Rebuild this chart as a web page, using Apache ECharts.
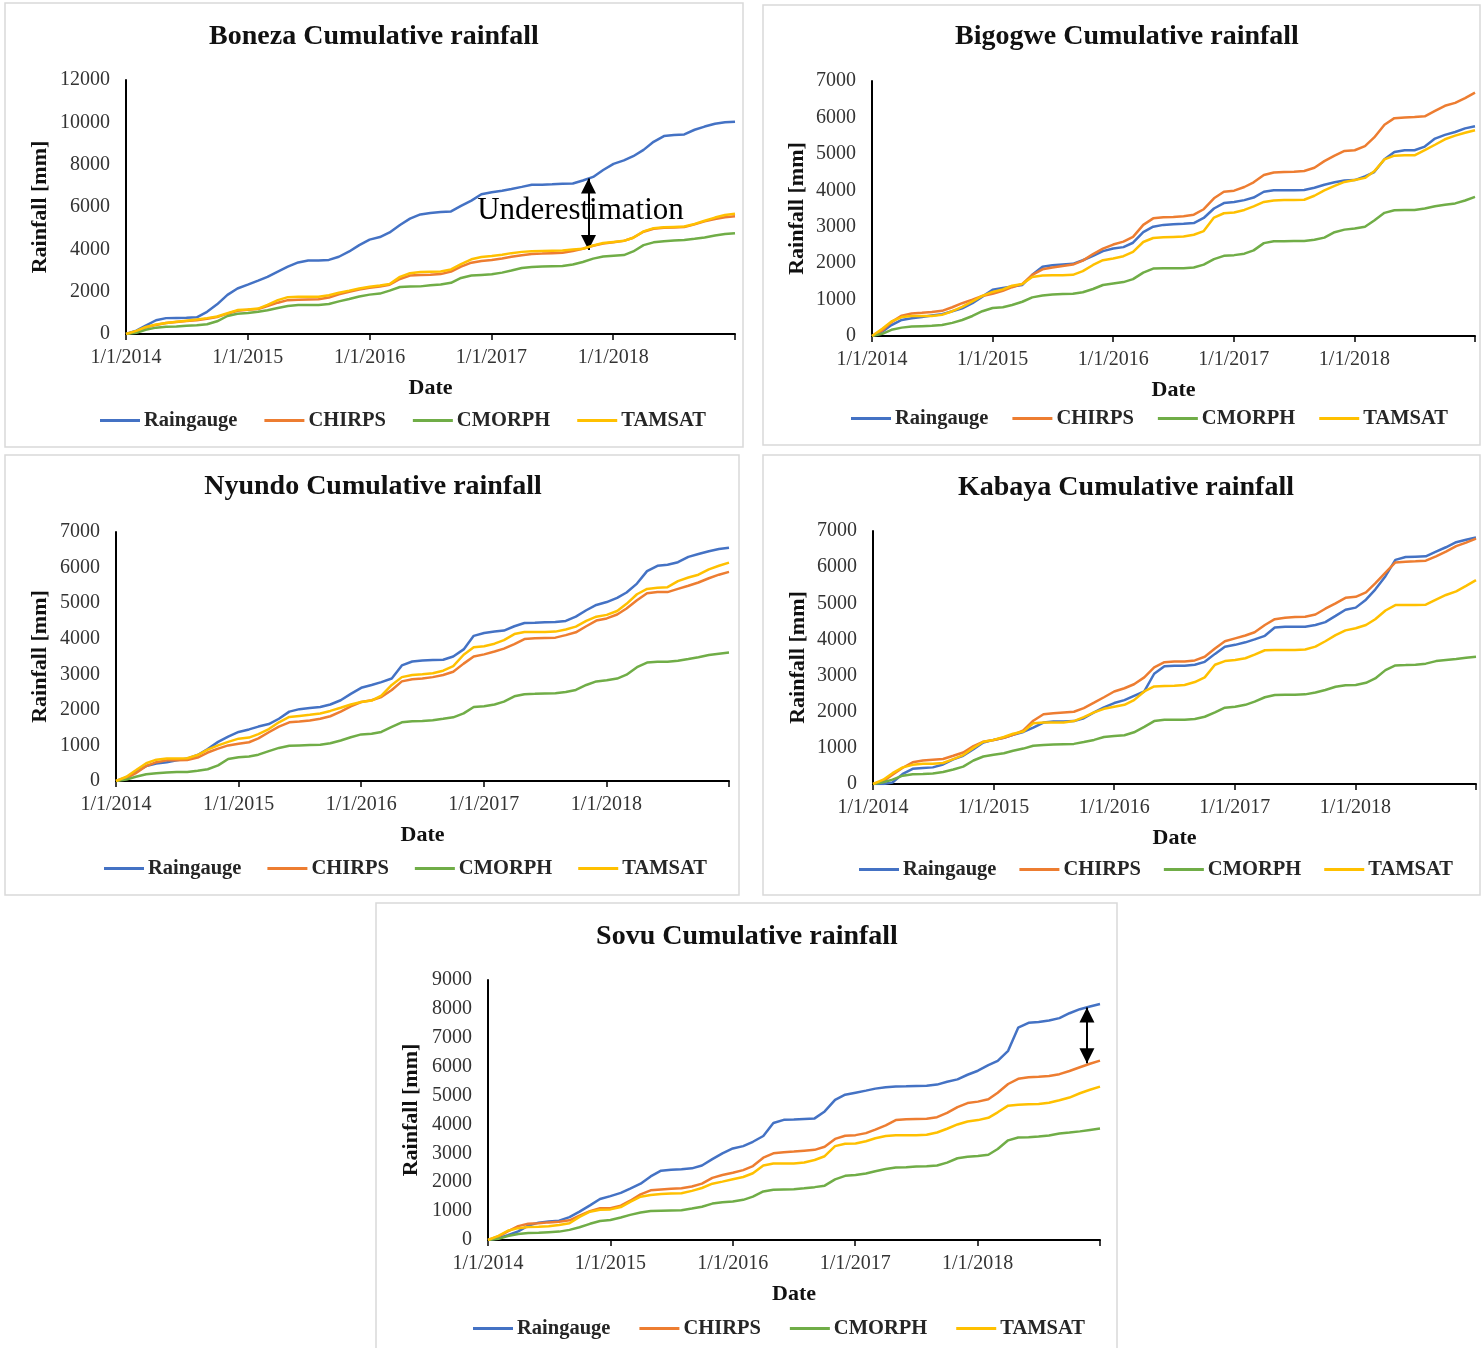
<!DOCTYPE html>
<html>
<head>
<meta charset="utf-8">
<title>Cumulative rainfall</title>
<script src="https://cdn.jsdelivr.net/npm/echarts@6/dist/echarts.min.js"></script>
<style>
  html, body { margin: 0; padding: 0; background: #ffffff; }
  #chart { width: 1482px; height: 1348px; }
</style>
</head>
<body>
<div id="chart"></div>
<script>
// Sampling dates: first day of each month, 2014-01 .. 2018-12, plus the last day of 2018
const dates = [
  '2014-01-01','2014-02-01','2014-03-01','2014-04-01','2014-05-01','2014-06-01','2014-07-01','2014-08-01','2014-09-01','2014-10-01','2014-11-01','2014-12-01',
  '2015-01-01','2015-02-01','2015-03-01','2015-04-01','2015-05-01','2015-06-01','2015-07-01','2015-08-01','2015-09-01','2015-10-01','2015-11-01','2015-12-01',
  '2016-01-01','2016-02-01','2016-03-01','2016-04-01','2016-05-01','2016-06-01','2016-07-01','2016-08-01','2016-09-01','2016-10-01','2016-11-01','2016-12-01',
  '2017-01-01','2017-02-01','2017-03-01','2017-04-01','2017-05-01','2017-06-01','2017-07-01','2017-08-01','2017-09-01','2017-10-01','2017-11-01','2017-12-01',
  '2018-01-01','2018-02-01','2018-03-01','2018-04-01','2018-05-01','2018-06-01','2018-07-01','2018-08-01','2018-09-01','2018-10-01','2018-11-01','2018-12-01',
  '2018-12-31'
];

const seriesNames = ['Raingauge', 'CHIRPS', 'CMORPH', 'TAMSAT'];
const yearTickLabels = ['1/1/2014', '1/1/2015', '1/1/2016', '1/1/2017', '1/1/2018'];

// Cumulative rainfall [mm] — Boneza
const bonezaRaingauge = [
  0, 160, 400, 650, 750, 760, 770, 790, 1050, 1400, 1850, 2150,
  2330, 2520, 2700, 2950, 3180, 3380, 3470, 3470, 3500, 3650, 3900, 4200,
  4460, 4580, 4800, 5150, 5450, 5650, 5720, 5760, 5790, 6050, 6300, 6600,
  6700, 6770, 6850, 6950, 7050, 7050, 7070, 7100, 7110, 7250, 7420, 7750,
  8040, 8200, 8400, 8700, 9080, 9350, 9400, 9430, 9650, 9800, 9930, 10000,
  10030
];
const bonezaChirps = [
  0, 120, 300, 430, 520, 570, 610, 650, 720, 800, 960, 1100,
  1140, 1180, 1320, 1480, 1600, 1620, 1630, 1640, 1720, 1880, 2000, 2100,
  2180, 2240, 2330, 2600, 2760, 2790, 2800, 2830, 2950, 3180, 3370, 3450,
  3500, 3570, 3650, 3720, 3780, 3800, 3820, 3840, 3920, 4030, 4170, 4270,
  4330, 4400, 4550, 4830, 4970, 5020, 5030, 5050, 5180, 5320, 5430, 5520,
  5560
];
const bonezaCmorph = [
  0, 60, 200, 300, 340, 360, 390, 410, 460, 600, 850, 960,
  990, 1050, 1120, 1230, 1320, 1370, 1370, 1370, 1420, 1540, 1650, 1770,
  1860, 1910, 2050, 2220, 2240, 2250, 2300, 2340, 2420, 2650, 2760, 2790,
  2820, 2900, 3000, 3120, 3170, 3190, 3200, 3210, 3280, 3400, 3560, 3660,
  3700, 3730, 3900, 4200, 4330, 4380, 4420, 4440, 4500, 4560, 4650, 4720,
  4760
];
const bonezaTamsat = [
  0, 150, 330, 450, 520, 580, 630, 680, 750, 830, 980, 1130,
  1160, 1200, 1380, 1600, 1740, 1760, 1760, 1760, 1830, 1950, 2050, 2150,
  2230, 2290, 2360, 2700, 2870, 2930, 2940, 2950, 3050, 3300, 3530, 3640,
  3680, 3740, 3820, 3880, 3910, 3920, 3930, 3940, 3990, 4030, 4180, 4300,
  4350, 4400, 4550, 4850, 5000, 5040, 5060, 5080, 5200, 5350, 5500, 5620,
  5680
];

// Cumulative rainfall [mm] — Bigogwe
const bigogweRaingauge = [
  0, 120, 300, 440, 490, 520, 560, 600, 680, 760, 900, 1080,
  1270, 1320, 1360, 1400, 1680, 1900, 1940, 1960, 1980, 2080, 2200, 2330,
  2400, 2440, 2560, 2850, 3000, 3050, 3070, 3080, 3100, 3240, 3500, 3650,
  3680, 3730, 3800, 3960, 4000, 4000, 4000, 4010, 4070, 4150, 4220, 4270,
  4280, 4380, 4500, 4850, 5050, 5100, 5100, 5200, 5420, 5520, 5600, 5700,
  5760
];
const bigogweChirps = [
  0, 150, 380, 560, 620, 640, 660, 690, 790, 900, 1000, 1100,
  1160, 1240, 1340, 1430, 1680, 1830, 1880, 1920, 1960, 2070, 2250, 2400,
  2510, 2590, 2720, 3050, 3230, 3260, 3270, 3290, 3330, 3480, 3780, 3960,
  3990, 4090, 4220, 4420, 4490, 4500, 4510, 4530, 4620, 4800, 4950, 5080,
  5100, 5210, 5450, 5800, 5980, 6000, 6010, 6030, 6180, 6320, 6400, 6530,
  6680
];
const bigogweCmorph = [
  0, 60, 170, 230, 260, 270, 280, 300, 360, 440, 550, 680,
  770, 790, 850, 940, 1060, 1110, 1140, 1150, 1160, 1200, 1290, 1400,
  1440, 1480, 1560, 1740, 1850, 1860, 1860, 1860, 1880, 1960, 2110, 2200,
  2220, 2260, 2350, 2550, 2600, 2600, 2610, 2610, 2640, 2700, 2850, 2920,
  2950, 3000, 3170, 3380, 3450, 3460, 3460, 3500, 3560, 3600, 3640, 3720,
  3820
];
const bigogweTamsat = [
  0, 200, 400, 520, 550, 550, 550, 580, 680, 800, 950, 1100,
  1210, 1280, 1380, 1430, 1620, 1660, 1670, 1670, 1680, 1780, 1950, 2080,
  2130, 2190, 2310, 2580, 2690, 2710, 2720, 2730, 2780, 2880, 3250, 3370,
  3390, 3460, 3560, 3680, 3720, 3730, 3730, 3740, 3850, 4000, 4120, 4230,
  4280, 4340, 4520, 4850, 4950, 4960, 4960, 5100, 5250, 5400, 5500, 5580,
  5650
];

// Cumulative rainfall [mm] — Nyundo
const nyundoRaingauge = [
  0, 100, 260, 420, 490, 530, 580, 630, 730, 900, 1100, 1250,
  1380, 1450, 1530, 1600, 1750, 1950, 2020, 2050, 2080, 2150, 2270, 2450,
  2620, 2700, 2780, 2880, 3250, 3360, 3390, 3400, 3410, 3500, 3700, 4080,
  4160, 4200, 4230, 4350, 4440, 4450, 4460, 4470, 4500, 4620, 4800, 4950,
  5030, 5150, 5300, 5550, 5900, 6050, 6080, 6150, 6300, 6380, 6460, 6520,
  6560
];
const nyundoChirps = [
  0, 80, 220, 420, 530, 580, 580, 590, 660, 800, 910, 1000,
  1050, 1090, 1200, 1370, 1530, 1650, 1670, 1700, 1750, 1820, 1950, 2100,
  2220, 2270, 2360, 2560, 2800, 2860, 2880, 2920, 2980, 3070, 3300, 3500,
  3560, 3640, 3720, 3850, 3990, 4010, 4020, 4030, 4100, 4180, 4350, 4510,
  4570, 4680, 4850, 5080, 5280, 5310, 5310, 5400, 5490, 5580, 5700, 5800,
  5880
];
const nyundoCmorph = [
  0, 40, 120, 190, 220, 240, 250, 250, 290, 330, 440, 620,
  670, 690, 740, 840, 930, 990, 1000, 1010, 1020, 1060, 1140, 1230,
  1310, 1330, 1380, 1520, 1650, 1680, 1690, 1710, 1750, 1790, 1900, 2080,
  2100, 2150, 2230, 2380, 2440, 2450, 2460, 2470, 2500, 2560, 2700, 2800,
  2830, 2880, 2990, 3200, 3330, 3350, 3350, 3380, 3430, 3480, 3540, 3580,
  3610
];
const nyundoTamsat = [
  0, 120, 300, 500, 600, 630, 630, 640, 730, 880, 1000, 1100,
  1190, 1220, 1320, 1460, 1650, 1800, 1830, 1860, 1900, 1970, 2060, 2150,
  2220, 2260, 2400, 2700, 2920, 2980, 3000, 3030, 3100, 3230, 3550, 3760,
  3790, 3860, 3960, 4130, 4190, 4190, 4190, 4200, 4260, 4340, 4500, 4620,
  4670, 4780, 4980, 5250, 5400, 5430, 5450, 5620, 5720, 5800, 5950, 6050,
  6140
];

// Cumulative rainfall [mm] — Kabaya
const kabayaRaingauge = [
  0, 0, 40, 280, 420, 440, 460, 540, 680, 780, 960, 1150,
  1220, 1280, 1360, 1440, 1560, 1700, 1730, 1730, 1740, 1820, 1980, 2120,
  2240, 2320, 2440, 2560, 3050, 3260, 3270, 3270, 3300, 3380, 3600, 3800,
  3850, 3920, 4000, 4100, 4330, 4350, 4350, 4350, 4400, 4480, 4650, 4820,
  4880, 5100, 5380, 5750, 6200, 6280, 6290, 6300, 6430, 6550, 6690, 6760,
  6820
];
const kabayaChirps = [
  0, 80, 260, 450, 600, 650, 670, 690, 780, 870, 1050, 1170,
  1220, 1280, 1360, 1480, 1750, 1930, 1960, 1980, 2000, 2100, 2250, 2400,
  2560, 2650, 2760, 2950, 3230, 3370, 3390, 3390, 3420, 3520, 3750, 3950,
  4030, 4110, 4200, 4400, 4560, 4600, 4620, 4630, 4690, 4850, 5000, 5150,
  5180, 5300, 5550, 5850, 6130, 6150, 6160, 6180, 6300, 6430, 6580, 6680,
  6790
];
const kabayaCmorph = [
  0, 50, 120, 230, 270, 280, 290, 330, 400, 480, 650, 760,
  810, 850, 920, 980, 1060, 1080, 1090, 1100, 1110, 1160, 1220, 1300,
  1330, 1350, 1430, 1580, 1740, 1780, 1780, 1780, 1800, 1860, 1980, 2110,
  2140, 2190, 2280, 2400, 2460, 2470, 2470, 2480, 2530, 2600, 2690, 2730,
  2740, 2800, 2920, 3150, 3280, 3290, 3300, 3330, 3400, 3430, 3460, 3490,
  3520
];
const kabayaTamsat = [
  0, 120, 300, 460, 530, 560, 560, 580, 690, 800, 1000, 1170,
  1220, 1300, 1390, 1450, 1680, 1700, 1700, 1700, 1740, 1850, 1980, 2080,
  2140, 2190, 2320, 2560, 2700, 2710, 2720, 2740, 2820, 2950, 3300, 3400,
  3430, 3480, 3580, 3700, 3710, 3710, 3710, 3720, 3800, 3950, 4120, 4250,
  4310, 4400, 4560, 4800, 4950, 4950, 4950, 4960, 5100, 5230, 5330, 5480,
  5640
];

// Cumulative rainfall [mm] — Sovu
const sovuRaingauge = [
  0, 60, 170, 300, 500, 600, 640, 670, 790, 980, 1200, 1420,
  1520, 1630, 1780, 1950, 2200, 2400, 2430, 2450, 2480, 2580, 2800, 3000,
  3170, 3250, 3400, 3600, 4050, 4160, 4170, 4190, 4210, 4450, 4850, 5030,
  5100, 5170, 5240, 5290, 5310, 5320, 5330, 5340, 5380, 5480, 5560, 5720,
  5860, 6050, 6200, 6550, 7350, 7520, 7550, 7600, 7680, 7850, 7990, 8080,
  8170
];
const sovuChirps = [
  0, 120, 300, 480, 560, 580, 610, 630, 680, 840, 1000, 1100,
  1100, 1190, 1360, 1580, 1720, 1750, 1770, 1790, 1850, 1950, 2150, 2250,
  2330, 2420, 2560, 2850, 3000, 3040, 3060, 3090, 3120, 3230, 3500, 3610,
  3630, 3700, 3820, 3970, 4150, 4180, 4190, 4200, 4250, 4400, 4600, 4740,
  4790, 4870, 5100, 5400, 5580, 5630, 5650, 5680, 5740, 5850, 5980, 6100,
  6210
];
const sovuCmorph = [
  0, 40, 140, 210, 240, 250, 270, 290, 350, 440, 560, 660,
  690, 780, 870, 950, 1000, 1010, 1020, 1030, 1090, 1150, 1260, 1310,
  1330, 1390, 1500, 1680, 1740, 1750, 1760, 1790, 1830, 1880, 2100, 2220,
  2250, 2300, 2380, 2460, 2510, 2520, 2540, 2550, 2580, 2680, 2830, 2880,
  2910, 2950, 3150, 3450, 3550, 3560, 3580, 3620, 3690, 3720, 3760, 3810,
  3860
];
const sovuTamsat = [
  0, 140, 320, 410, 450, 460, 480, 520, 580, 800, 980, 1050,
  1060, 1140, 1320, 1500, 1560, 1590, 1610, 1620, 1700, 1800, 1950, 2020,
  2100, 2180, 2310, 2580, 2650, 2650, 2650, 2680, 2770, 2900, 3250, 3330,
  3340, 3420, 3520, 3600, 3630, 3630, 3630, 3640, 3720, 3850, 4000, 4100,
  4150, 4230, 4420, 4650, 4680, 4700, 4710, 4750, 4840, 4930, 5080, 5200,
  5310
];

// Gap markers: date and the two rainfall levels the double arrow spans (tip to tip)
const bonezaGap = { date: '2017-10-18', upper: 7350, lower: 3970, text: 'Underestimation', textDate: '2017-09-24', textLevel: 5810 };
const sovuGap = { date: '2018-11-22', upper: 8050, lower: 6120 };

// ---------------------------------------------------------------------------
const COLORS = ['#4472C4', '#ED7D31', '#70AD47', '#FFC000'];
const SERIF = "'Liberation Serif', 'Times New Roman', serif";
const DAY_MS = 86400000;
const ORIGIN = Date.UTC(2014, 0, 1);
const LAST_DAY = 1825;
const ARROW_LEN = 15;

function dayOf(s) {
  return (Date.UTC(+s.slice(0, 4), +s.slice(5, 7) - 1, +s.slice(8, 10)) - ORIGIN) / DAY_MS;
}

const stations = [
  { title: 'Boneza Cumulative rainfall', values: [bonezaRaingauge, bonezaChirps, bonezaCmorph, bonezaTamsat], yMax: 12000, yStep: 2000, gap: bonezaGap },
  { title: 'Bigogwe Cumulative rainfall', values: [bigogweRaingauge, bigogweChirps, bigogweCmorph, bigogweTamsat], yMax: 7000, yStep: 1000 },
  { title: 'Nyundo Cumulative rainfall', values: [nyundoRaingauge, nyundoChirps, nyundoCmorph, nyundoTamsat], yMax: 7000, yStep: 1000 },
  { title: 'Kabaya Cumulative rainfall', values: [kabayaRaingauge, kabayaChirps, kabayaCmorph, kabayaTamsat], yMax: 7000, yStep: 1000 },
  { title: 'Sovu Cumulative rainfall', values: [sovuRaingauge, sovuChirps, sovuCmorph, sovuTamsat], yMax: 9000, yStep: 1000, gap: sovuGap }
];

// Panel geometry (pixels)
const layout = [
  { box: [5, 3, 738, 444],   grid: [126, 80, 609, 254],   titleX: 374,  titleY: 37,  legendX: 100, legendY: 419,  legendGap: 27, nameGapY: 75 },
  { box: [763, 5, 717, 440], grid: [872, 81, 603, 255],   titleX: 1127, titleY: 37,  legendX: 851, legendY: 417,  legendGap: 24, nameGapY: 64 },
  { box: [5, 455, 734, 440], grid: [116, 532, 613, 249],  titleX: 373,  titleY: 487, legendX: 104, legendY: 867,  legendGap: 26, nameGapY: 65 },
  { box: [763, 455, 717, 440], grid: [873, 531, 603, 253], titleX: 1126, titleY: 488, legendX: 859, legendY: 868, legendGap: 23, nameGapY: 64 },
  { box: [376, 903, 741, 450], grid: [488, 980, 612, 260], titleX: 747, titleY: 937, legendX: 473, legendY: 1327, legendGap: 29, nameGapY: 66 }
];

const option = {
  backgroundColor: '#ffffff',
  animation: false,
  title: [], legend: [], grid: [], xAxis: [], yAxis: [], series: [],
  graphic: []
};

stations.forEach((st, i) => {
  const L = layout[i];

  option.graphic.push({
    type: 'rect', z: -10, silent: true,
    shape: { x: L.box[0], y: L.box[1], width: L.box[2], height: L.box[3] },
    style: { fill: '#ffffff', stroke: '#d9d9d9', lineWidth: 1.5 }
  });

  option.title.push({
    text: st.title, left: L.titleX, top: L.titleY - 14, textAlign: 'center', padding: 0,
    textStyle: { fontFamily: SERIF, fontSize: 28, fontWeight: 'bold', color: '#111111' }
  });

  option.legend.push({
    data: seriesNames, left: L.legendX, top: L.legendY - 9, padding: 0,
    icon: 'rect', itemWidth: 40, itemHeight: 3, itemGap: L.legendGap, selectedMode: false,
    textStyle: { fontFamily: SERIF, fontSize: 20.5, fontWeight: 'bold', color: '#262626', padding: [0, 0, 0, -1] }
  });

  option.grid.push({ left: L.grid[0], top: L.grid[1], width: L.grid[2], height: L.grid[3], containLabel: false });

  option.xAxis.push({
    type: 'value', gridIndex: i, min: 0, max: LAST_DAY, interval: 365,
    name: 'Date', nameLocation: 'middle', nameGap: 43,
    nameTextStyle: { fontFamily: SERIF, fontSize: 22, fontWeight: 'bold', color: '#111111' },
    axisLine: { lineStyle: { color: '#000000', width: 2 } },
    axisTick: { show: true, length: 6, lineStyle: { color: '#000000', width: 1.5 } },
    axisLabel: {
      fontFamily: SERIF, fontSize: 20, color: '#333333', margin: 14,
      formatter: v => (v >= LAST_DAY ? '' : yearTickLabels[Math.round(v / 365)])
    },
    splitLine: { show: false }
  });

  option.yAxis.push({
    type: 'value', gridIndex: i, min: 0, max: st.yMax, interval: st.yStep,
    name: 'Rainfall [mm]', nameLocation: 'middle', nameGap: L.nameGapY,
    nameTextStyle: { fontFamily: SERIF, fontSize: 22, fontWeight: 'bold', color: '#111111' },
    axisLine: { show: true, lineStyle: { color: '#000000', width: 2 } },
    axisTick: { show: false },
    axisLabel: { fontFamily: SERIF, fontSize: 20, color: '#333333', margin: 16, formatter: v => String(v) },
    splitLine: { show: false }
  });

  st.values.forEach((vals, k) => {
    const s = {
      name: seriesNames[k], type: 'line', xAxisIndex: i, yAxisIndex: i,
      data: dates.map((d, j) => [dayOf(d), vals[j]]),
      showSymbol: false, symbol: 'none',
      lineStyle: { color: COLORS[k], width: 2.5 },
      itemStyle: { color: COLORS[k] },
      z: 2 + k
    };
    if (k === 0 && st.gap) {
      const g = st.gap;
      s.markLine = {
        silent: true, animation: false,
        symbol: ['triangle', 'triangle'], symbolSize: [15, ARROW_LEN],
        // shift each head inward so its tip sits on the end point
        symbolOffset: [[0, ARROW_LEN / 2], [0, ARROW_LEN / 2]],
        lineStyle: { color: '#000000', width: 2, type: 'solid' },
        itemStyle: { color: '#000000' },
        label: { show: false },
        emphasis: { disabled: true },
        data: [[{ coord: [dayOf(g.date), g.upper] }, { coord: [dayOf(g.date), g.lower] }]]
      };
      if (g.text) {
        s.markPoint = {
          silent: true, animation: false, symbol: 'circle', symbolSize: 0,
          label: { show: true, position: 'inside', formatter: g.text, fontFamily: SERIF, fontSize: 31, color: '#000000' },
          data: [{ coord: [dayOf(g.textDate), g.textLevel] }]
        };
      }
    }
    option.series.push(s);
  });
});

const chart = echarts.init(document.getElementById('chart'), null, { renderer: 'canvas' });
chart.setOption(option);
</script>
</body>
</html>
